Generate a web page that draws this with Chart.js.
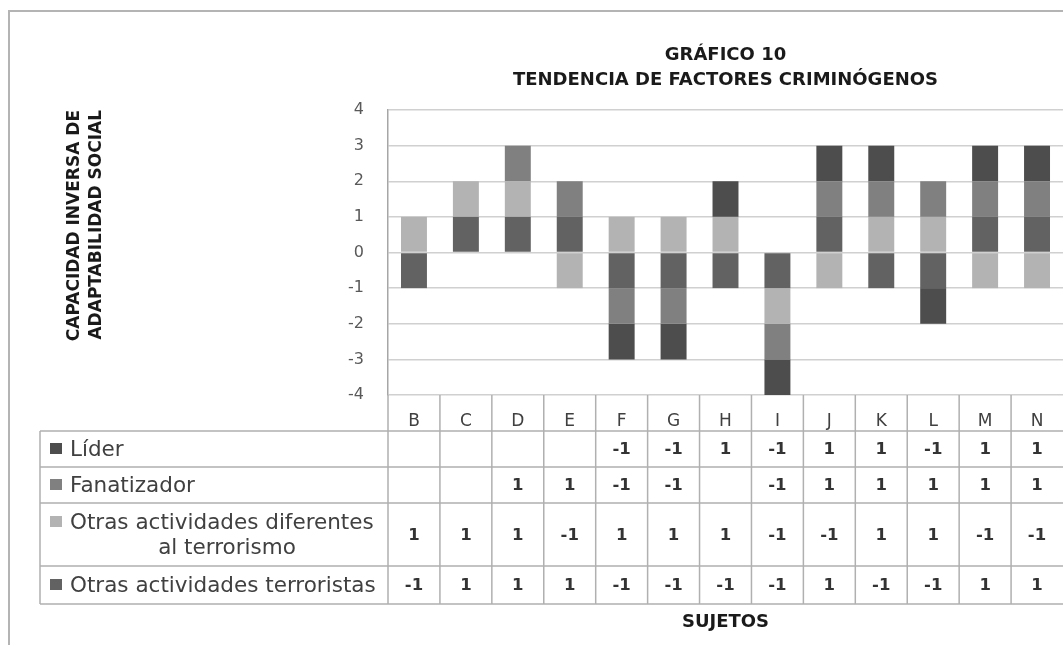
<!DOCTYPE html>
<html>
<head>
<meta charset="utf-8">
<script src="https://cdn.jsdelivr.net/npm/chart.js@4.4.1/dist/chart.umd.min.js"></script>
<style>
  html, body { margin: 0; padding: 0; background: #fff; overflow: hidden; }
  #wrap { width: 1063px; height: 645px; }
</style>
</head>
<body>
<div id="wrap"><canvas id="chart"></canvas></div>
<script>
// data
const categories = ['B', 'C', 'D', 'E', 'F', 'G', 'H', 'I', 'J', 'K', 'L', 'M', 'N'];
const lider = [null, null, null, null, -1, -1, 1, -1, 1, 1, -1, 1, 1];
const fanatizador = [null, null, 1, 1, -1, -1, null, -1, 1, 1, 1, 1, 1];
const otrasDiferentes = [1, 1, 1, -1, 1, 1, 1, -1, -1, 1, 1, -1, -1];
const otrasTerroristas = [-1, 1, 1, 1, -1, -1, -1, -1, 1, -1, -1, 1, 1];
const yMin = -4;
const yMax = 4;

const FONT = "'DejaVu Sans', sans-serif";

// row heights of the data table under the plot (header first)
const rowHeights = [36, 36, 36, 63, 38];

const frameAndTable = {
  id: 'frameAndTable',
  beforeDraw(chart) {
    const { ctx, width, height } = chart;
    ctx.save();
    ctx.fillStyle = '#fff';
    ctx.fillRect(0, 0, width, height);
    ctx.strokeStyle = '#b4b4b4';
    ctx.lineWidth = 2;
    ctx.beginPath();
    ctx.moveTo(9, height);
    ctx.lineTo(9, 11);
    ctx.lineTo(width, 11);
    ctx.stroke();
    ctx.restore();
  },
  afterDraw(chart) {
    const { ctx, chartArea, scales: { x } } = chart;
    const top = chartArea.bottom;
    const edges = [top];
    rowHeights.forEach(h => edges.push(edges[edges.length - 1] + h));
    const bottom = edges[edges.length - 1];
    const tableLeft = 40;
    const half = (x.getPixelForValue(1) - x.getPixelForValue(0)) / 2;

    ctx.save();
    ctx.strokeStyle = '#b0b0b0';
    ctx.lineWidth = 1.5;
    ctx.beginPath();
    for (let r = 1; r < edges.length; r++) {
      ctx.moveTo(tableLeft, edges[r]);
      ctx.lineTo(chartArea.right, edges[r]);
    }
    ctx.moveTo(tableLeft, edges[1]);
    ctx.lineTo(tableLeft, bottom);
    for (let i = 0; i < categories.length; i++) {
      const xx = x.getPixelForValue(i) - half;
      ctx.moveTo(xx, top);
      ctx.lineTo(xx, bottom);
    }
    ctx.stroke();

    // rows: last dataset first, like the legend of the original
    const rows = chart.data.datasets.slice().reverse();
    rows.forEach((ds, r) => {
      const y0 = edges[r + 1];
      const y1 = edges[r + 2];
      const mid = (y0 + y1) / 2;
      const lines = ds.tableLabel;
      const lh = 25;
      const firstY = mid - (lines.length - 1) * lh / 2;

      ctx.fillStyle = ds.backgroundColor;
      ctx.fillRect(50, firstY - 6, 12, 11);

      ctx.fillStyle = '#404040';
      ctx.font = '21.5px ' + FONT;
      ctx.textBaseline = 'middle';
      lines.forEach((t, k) => {
        if (k === 0) {
          ctx.textAlign = 'left';
          ctx.fillText(t, 70, firstY + 1);
        } else {
          ctx.textAlign = 'center';
          ctx.fillText(t, 227, firstY + k * lh + 1);
        }
      });

      ctx.font = 'bold 16.5px ' + FONT;
      ctx.fillStyle = '#333';
      ctx.textAlign = 'center';
      ds.data.forEach((v, i) => {
        if (v === null || v === undefined) return;
        ctx.fillText(String(v), x.getPixelForValue(i), mid + 1);
      });
    });
    ctx.restore();
  }
};

new Chart(document.getElementById('chart'), {
  type: 'bar',
  data: {
    labels: categories,
    datasets: [
      { label: 'Otras actividades terroristas', data: otrasTerroristas, backgroundColor: '#626262',
        tableLabel: ['Otras actividades terroristas'] },
      { label: 'Otras actividades diferentes al terrorismo', data: otrasDiferentes, backgroundColor: '#b3b3b3',
        tableLabel: ['Otras actividades diferentes', 'al terrorismo'] },
      { label: 'Fanatizador', data: fanatizador, backgroundColor: '#808080',
        tableLabel: ['Fanatizador'] },
      { label: 'Líder', data: lider, backgroundColor: '#4d4d4d',
        tableLabel: ['Líder'] }
    ]
  },
  options: {
    responsive: true,
    maintainAspectRatio: false,
    animation: false,
    layout: { padding: 0 },
    datasets: {
      bar: { categoryPercentage: 1, barPercentage: 0.5, borderWidth: 0 }
    },
    plugins: {
      legend: { display: false },
      tooltip: { enabled: false },
      title: {
        display: true,
        fullSize: false,
        text: ['GRÁFICO 10', 'TENDENCIA DE FACTORES CRIMINÓGENOS'],
        color: '#1a1a1a',
        font: { family: FONT, size: 18, weight: 'bold', lineHeight: 25 / 18 },
        padding: { top: 42.5, bottom: 17.5 }
      }
    },
    scales: {
      x: {
        stacked: true,
        grid: { display: false },
        border: { display: false },
        ticks: { color: '#404040', font: { family: FONT, size: 17 }, padding: 8 },
        title: {
          display: true,
          text: 'SUJETOS',
          color: '#1a1a1a',
          font: { family: FONT, size: 18, weight: 'bold', lineHeight: 1.2 },
          padding: { top: 0, bottom: 12 }
        },
        afterFit(scale) { scale.height = 250; }
      },
      y: {
        stacked: true,
        min: yMin,
        max: yMax,
        ticks: { stepSize: 1, color: '#595959', font: { family: FONT, size: 16 }, padding: 24 },
        grid: { color: '#d0d0d0', lineWidth: 1.5, drawTicks: false },
        border: { display: true, color: '#a6a6a6', width: 1.5 },
        title: {
          display: true,
          align: 'end',
          text: ['CAPACIDAD INVERSA DE', 'ADAPTABILIDAD SOCIAL'],
          color: '#1a1a1a',
          font: { family: FONT, size: 17, weight: 'bold', lineHeight: 22 / 17 },
          padding: { top: 64, bottom: 0 }
        },
        afterFit(scale) { scale.width = 388; }
      }
    }
  },
  plugins: [frameAndTable]
});
</script>
</body>
</html>
